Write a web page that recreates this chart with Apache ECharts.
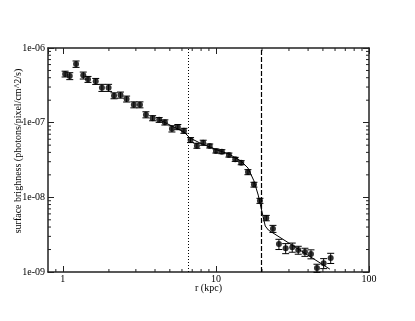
<!DOCTYPE html>
<html>
<head>
<meta charset="utf-8">
<script src="https://cdn.jsdelivr.net/npm/echarts@6/dist/echarts.min.js"></script>
<style>
  html, body { margin: 0; padding: 0; background: #fff; }
  #chart { width: 415px; height: 321px; }
</style>
</head>
<body>
<div id="chart"></div>
<script>
// radius (kpc)
const radius = [
  1.035, 1.11, 1.22, 1.36, 1.46, 1.64, 1.80, 1.99, 2.16, 2.38,
  2.61, 2.91, 3.19, 3.49, 3.86, 4.26, 4.64, 5.16, 5.64, 6.18,
  6.83, 7.51, 8.26, 9.11, 10.0, 10.94, 12.16, 13.37, 14.63, 16.19,
  17.72, 19.39, 21.33, 23.58, 25.8, 28.55, 31.52, 34.5, 38.15, 41.78,
  45.72, 50.57, 56.2,
];
// surface brightness (photons/pixel/cm^2/s)
const brightness = [
  4.49e-7, 4.22e-7, 6.1e-7, 4.3e-7, 3.81e-7, 3.58e-7, 2.94e-7, 2.94e-7, 2.30e-7, 2.35e-7,
  2.08e-7, 1.74e-7, 1.74e-7, 1.28e-7, 1.15e-7, 1.09e-7, 1.01e-7, 8.3e-8, 8.75e-8, 7.8e-8,
  5.86e-8, 4.92e-8, 5.4e-8, 4.88e-8, 4.18e-8, 4.09e-8, 3.69e-8, 3.23e-8, 2.91e-8, 2.18e-8,
  1.48e-8, 9.0e-9, 5.29e-9, 3.8e-9, 2.37e-9, 2.08e-9, 2.14e-9, 1.97e-9, 1.85e-9, 1.74e-9,
  1.13e-9, 1.31e-9, 1.54e-9,
];
const brightnessErr = [
  0.40e-7, 0.45e-7, 0.6e-7, 0.46e-7, 0.35e-7, 0.33e-7, 0.32e-7, 0.32e-7, 0.21e-7, 0.22e-7,
  0.19e-7, 0.16e-7, 0.16e-7, 0.12e-7, 0.09e-7, 0.08e-7, 0.08e-7, 0.8e-8, 0.7e-8, 0.6e-8,
  0.45e-8, 0.38e-8, 0.42e-8, 0.3e-8, 0.26e-8, 0.25e-8, 0.23e-8, 0.2e-8, 0.18e-8, 0.17e-8,
  0.11e-8, 0.7e-9, 0.44e-9, 0.41e-9, 0.37e-9, 0.32e-9, 0.3e-9, 0.24e-9, 0.23e-9, 0.24e-9,
  0.14e-9, 0.2e-9, 0.24e-9,
];
// model curve
const modelR = [4.3, 5.16, 6.18, 6.77, 7.85, 10, 12.16, 14.56, 16.2, 17.72, 18.9, 20.0, 21.0, 22.0, 55.6];
const modelSB = [1.09e-7, 9.0e-8, 7.5e-8, 6.24e-8, 5.35e-8, 4.37e-8, 3.8e-8, 3.07e-8, 2.47e-8, 1.66e-8,
  1.07e-8, 6.37e-9, 4.13e-9, 3.65e-9, 1.09e-9];
// vertical marker radii
const dottedR = 6.6;
const dashedR = 19.7;
// minor tick values
const xMinor = [0.9, 2, 3, 4, 5, 6, 7, 8, 9, 20, 30, 40, 50, 60, 70, 80, 90];
const yMinor = [2e-9, 3e-9, 4e-9, 5e-9, 6e-9, 7e-9, 8e-9, 9e-9,
  2e-8, 3e-8, 4e-8, 5e-8, 6e-8, 7e-8, 8e-8, 9e-8,
  2e-7, 3e-7, 4e-7, 5e-7, 6e-7, 7e-7, 8e-7, 9e-7];

const FONT = 'Liberation Serif';
const X_MIN = 0.8, X_MAX = 100, Y_MIN = 1e-9, Y_MAX = 1e-6;

const chart = echarts.init(document.getElementById('chart'));

const expLabel = (v) => {
  const e = Math.round(Math.log10(v));
  return '1e' + (e < 0 ? '-' : '+') + String(Math.abs(e)).padStart(2, '0');
};

const axisLine = { show: true, lineStyle: { color: '#222', width: 1.5 } };
const majorTick = { show: true, inside: true, length: 6, lineStyle: { color: '#222', width: 1 } };

const points = radius.map((r, i) => [r, brightness[i], brightnessErr[i]]);

const option = {
  animation: false,
  grid: { left: 48, top: 48, right: 46, bottom: 49, outerBoundsMode: 'none', containLabel: false },
  xAxis: [
    {
      type: 'log', logBase: 10, min: X_MIN, max: X_MAX, position: 'bottom',
      name: 'r (kpc)', nameLocation: 'middle', nameGap: 11, nameMoveOverlap: false,
      nameTextStyle: { fontFamily: FONT, fontSize: 10, color: '#000' },
      axisLine, axisTick: majorTick, splitLine: { show: false },
      axisLabel: { fontFamily: FONT, fontSize: 10, color: '#000', margin: 2, showMinLabel: false },
    },
    {
      type: 'log', logBase: 10, min: X_MIN, max: X_MAX, position: 'top',
      axisLine, axisTick: majorTick, splitLine: { show: false }, axisLabel: { show: false },
    },
  ],
  yAxis: [
    {
      type: 'log', logBase: 10, min: Y_MIN, max: Y_MAX, position: 'left',
      name: 'surface brighness (photons/pixel/cm^2/s)', nameLocation: 'middle', nameGap: 25, nameMoveOverlap: false,
      nameTextStyle: { fontFamily: FONT, fontSize: 10, color: '#000', padding: [0, 0, 0, 18] },
      axisLine, axisTick: majorTick, splitLine: { show: false },
      axisLabel: { fontFamily: FONT, fontSize: 10, color: '#000', margin: 3, formatter: expLabel },
    },
    {
      type: 'log', logBase: 10, min: Y_MIN, max: Y_MAX, position: 'right',
      axisLine, axisTick: majorTick, splitLine: { show: false }, axisLabel: { show: false },
    },
  ],
  series: [
    {
      // x minor ticks, bottom and top
      type: 'custom', silent: true, clip: false,
      data: xMinor.map((v) => [v, Y_MIN]),
      renderItem(params, api) {
        const x = api.coord([api.value(0), Y_MIN])[0];
        const cs = params.coordSys;
        const style = { stroke: '#222', lineWidth: 1 };
        return {
          type: 'group',
          children: [
            { type: 'line', shape: { x1: x, y1: cs.y + cs.height, x2: x, y2: cs.y + cs.height - 3 }, style },
            { type: 'line', shape: { x1: x, y1: cs.y, x2: x, y2: cs.y + 3 }, style },
          ],
        };
      },
    },
    {
      // y minor ticks, left and right
      type: 'custom', silent: true, clip: false,
      data: yMinor.map((v) => [X_MIN, v]),
      renderItem(params, api) {
        const y = api.coord([X_MIN, api.value(1)])[1];
        const cs = params.coordSys;
        const style = { stroke: '#222', lineWidth: 1 };
        return {
          type: 'group',
          children: [
            { type: 'line', shape: { x1: cs.x, y1: y, x2: cs.x + 3, y2: y }, style },
            { type: 'line', shape: { x1: cs.x + cs.width, y1: y, x2: cs.x + cs.width - 3, y2: y }, style },
          ],
        };
      },
    },
    {
      // error bars
      type: 'custom', silent: true,
      data: points,
      renderItem(params, api) {
        const r = api.value(0), v = api.value(1), e = api.value(2);
        const hi = api.coord([r, v + e]);
        const lo = api.coord([r, v - e]);
        const w = 3.5;
        const style = { stroke: '#000', lineWidth: 1 };
        return {
          type: 'group',
          children: [
            { type: 'line', shape: { x1: hi[0], y1: hi[1], x2: lo[0], y2: lo[1] }, style },
            { type: 'line', shape: { x1: hi[0] - w, y1: hi[1], x2: hi[0] + w, y2: hi[1] }, style },
            { type: 'line', shape: { x1: lo[0] - w, y1: lo[1], x2: lo[0] + w, y2: lo[1] }, style },
          ],
        };
      },
    },
    {
      type: 'scatter', symbol: 'circle', symbolSize: 6,
      itemStyle: { color: '#000' },
      data: points.map((p) => [p[0], p[1]]),
    },
    {
      type: 'line', showSymbol: false, symbol: 'none',
      lineStyle: { color: '#000', width: 1 },
      data: modelR.map((r, i) => [r, modelSB[i]]),
      markLine: {
        silent: true, symbol: 'none', label: { show: false },
        data: [
          { xAxis: dottedR, lineStyle: { color: '#000', width: 1, type: [1, 2] } },
          { xAxis: dashedR, lineStyle: { color: '#000', width: 1.2, type: [5, 2] } },
        ],
      },
    },
  ],
};

chart.setOption(option);
</script>
</body>
</html>
